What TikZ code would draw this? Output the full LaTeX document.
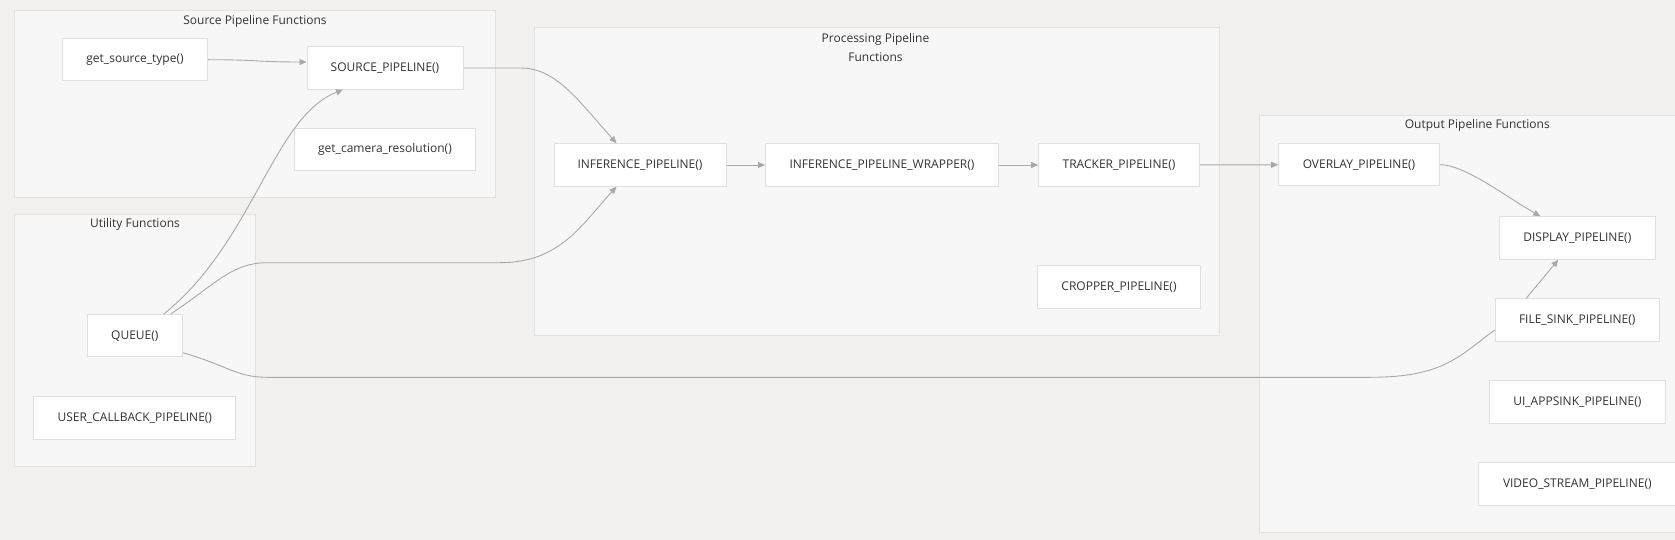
\documentclass[tikz,border=0pt]{standalone}
\usepackage{fontspec}
\setmainfont{Open Sans}
\usetikzlibrary{arrows.meta}
\definecolor{bgcol}{RGB}{242,241,240}
\definecolor{grpfill}{RGB}{247,247,247}
\definecolor{grpline}{RGB}{226,226,226}
\definecolor{nodeline}{RGB}{224,224,224}
\definecolor{linkcol}{RGB}{168,168,168}
\definecolor{txt}{RGB}{51,51,51}
\begin{document}
\begin{tikzpicture}[x=1pt, y=-1pt,
		fn/.style={draw=nodeline, fill=white, line width=1, minimum height=42.5, inner sep=0, font=\fontsize{12}{14}\selectfont, text=txt},
		grp/.style={draw=grpline, fill=grpfill, line width=1},
		ttl/.style={font=\fontsize{12}{19}\selectfont, text=txt, align=center},
		link/.style={draw=linkcol, line width=0.9, -{Triangle[length=7,width=6]}},
		plain/.style={draw=linkcol, line width=0.9}]
			\useasboundingbox[fill=bgcol] (0,0) rectangle (1675,540);
			\clip (0,0) rectangle (1675,540);
			\draw[grp] (14.3,10.7) rectangle (495,198);
			\draw[grp] (14.3,214.3) rectangle (255.7,466.7);
			\draw[grp] (534.5,27.3) rectangle (1219.7,335);
			\draw[grp] (1259,115.7) rectangle (1700,532.7);
			\node[ttl] (srcttl) at (255,21) {Source Pipeline Functions};
			\node[ttl] (utilttl) at (135,224.3) {Utility Functions};
			\node[ttl] (procttl) at (875.5,47.2) {Processing Pipeline\\Functions};
			\node[ttl] (outttl) at (1477.3,125.7) {Output Pipeline Functions};
			\node[fn, minimum width=144.6] (gst) at (135,59.7) {get\_source\_type()};
			\node[fn, minimum width=156] (src) at (385,68) {SOURCE\_PIPELINE()};
			\node[fn, minimum width=180.6] (cam) at (385,149.7) {get\_camera\_resolution()};
			\node[fn, minimum width=95] (q) at (134.8,335.7) {QUEUE()};
			\node[fn, minimum width=202.3] (ucb) at (134.8,418) {USER\_CALLBACK\_PIPELINE()};
			\node[fn, minimum width=172] (inf) at (640,165) {INFERENCE\_PIPELINE()};
			\node[fn, minimum width=233] (wrap) at (882,165) {INFERENCE\_PIPELINE\_WRAPPER()};
			\node[fn, minimum width=160.7] (trk) at (1119,165) {TRACKER\_PIPELINE()};
			\node[fn, minimum width=162.6] (crop) at (1119,287) {CROPPER\_PIPELINE()};
			\node[fn, minimum width=160.6] (ovl) at (1359,164.7) {OVERLAY\_PIPELINE()};
			\node[fn, minimum width=156] (disp) at (1577.3,238) {DISPLAY\_PIPELINE()};
			\node[fn, minimum width=163.7] (fs) at (1577.2,320) {FILE\_SINK\_PIPELINE()};
			\node[fn, minimum width=176] (ui) at (1577.3,402) {UI\_APPSINK\_PIPELINE()};
			\node[fn, minimum width=197] (vid) at (1577.3,484.2) {VIDEO\_STREAM\_PIPELINE()};
			\draw[link] (gst.east) .. controls +(50,0) and +(-50,0) .. ([yshift=6]src.west);
			\draw[link] (src.east) -- ++(57,0) .. controls +(35,0) and +(-40,-45) .. ([xshift=-23.5]inf.north);
			\draw[link] ([xshift=29]q.north) .. controls +(90,-72) and +(-70,27) .. ([xshift=-42]src.south);
			\draw[link] ([xshift=36]q.north) .. controls +(45,-30) and +(-35,0) .. (267,262.7) -- (500,262.7) .. controls +(60,0) and +(-35,38) .. ([xshift=-23.5]inf.south);
			\draw[plain] ([yshift=-17]q.east) .. controls +(45,13) and +(-30,0) .. (267,377.3) -- (1370,377.3) .. controls +(75,0) and +(-35,25) .. ([yshift=-10]fs.west);
			\draw[link] (inf) -- (wrap);
			\draw[link] (wrap) -- (trk);
			\draw[link] (trk) -- (ovl);
			\draw[link] (ovl.east) .. controls +(25,0) and +(-35,-20) .. ([xshift=-37]disp.north);
			\draw[link] ([xshift=-51]fs.north) -- ([xshift=-19]disp.south);
		\end{tikzpicture}
\end{document}
